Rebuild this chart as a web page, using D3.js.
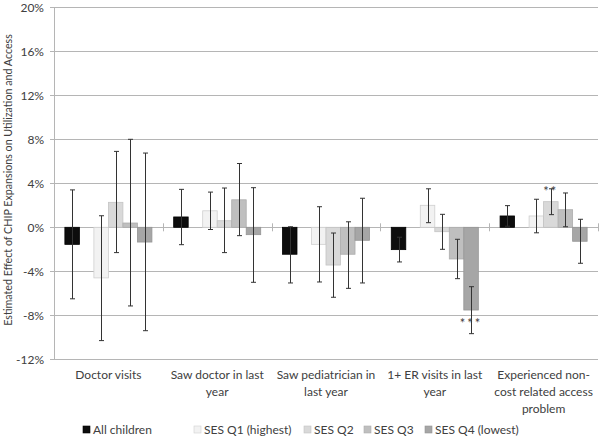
<!DOCTYPE html>
<html>
<head>
<meta charset="utf-8">
<script src="https://cdn.jsdelivr.net/npm/d3@7"></script>
<style>
  body { margin: 0; background: #fff; }
  svg text { font-family: Lato, "Open Sans", sans-serif; fill: #404040; }
</style>
</head>
<body>
<script>
// categories and tick labels
var categories = [
  ["Doctor visits"],
  ["Saw doctor in last", "year"],
  ["Saw pediatrician in", "last year"],
  ["1+ ER visits in last", "year"],
  ["Experienced non-", "cost related access", "problem"]
];
var yTicks = [-12, -8, -4, 0, 4, 8, 12, 16, 20];

var seriesNames = ["All children", "SES Q1 (highest)", "SES Q2", "SES Q3", "SES Q4 (lowest)"];
var seriesKeys = ["all", "q1", "q2", "q3", "q4"];
var seriesColors = ["#0d0d0d", "#f2f2f2", "#d9d9d9", "#bfbfbf", "#a6a6a6"];
var seriesStroke = ["#000", "#cfcfcf", "#c4c4c4", "#adadad", "#959595"];

// point estimates (%), one per category
var allChildren = [-1.55, 0.94, -2.45, -2.03, 1.03];
var sesQ1 = [-4.6, 1.5, -1.55, 2.0, 1.03];
var sesQ2 = [2.27, 0.6, -3.43, -0.4, 2.33];
var sesQ3 = [0.39, 2.5, -2.45, -2.88, 1.6];
var sesQ4 = [-1.34, -0.67, -1.18, -7.52, -1.27];

// confidence intervals (%)
var allLow = [-6.5, -1.58, -5.06, -3.15, 0.1];
var allHigh = [3.4, 3.45, 0.05, -0.9, 1.97];
var q1Low = [-10.3, -0.2, -4.97, 0.42, -0.5];
var q1High = [1.05, 3.2, 1.87, 3.5, 2.55];
var q2Low = [-2.3, -2.3, -6.36, -2.0, 1.15];
var q2High = [6.9, 3.57, -0.52, 1.18, 3.5];
var q3Low = [-7.15, -0.76, -5.55, -4.67, 0.05];
var q3High = [8.0, 5.8, 0.5, -1.09, 3.12];
var q4Low = [-9.4, -5.0, -5.06, -9.67, -3.27];
var q4High = [6.75, 3.6, 2.64, -5.4, 0.73];

// significance stars: [category index, series key, label]
var stars = [[3, "q4", "***"], [4, "q2", "**"]];

var values = { all: allChildren, q1: sesQ1, q2: sesQ2, q3: sesQ3, q4: sesQ4 };
var lows = { all: allLow, q1: q1Low, q2: q2Low, q3: q3Low, q4: q4Low };
var highs = { all: allHigh, q1: q1High, q2: q2High, q3: q3High, q4: q4High };

var width = 600, height = 437;
var margin = {top: 7.3, right: 2, bottom: 77.7, left: 54};

var svg = d3.select("body").append("svg")
    .attr("width", width)
    .attr("height", height);

var x = d3.scaleBand()
    .domain(d3.range(categories.length))
    .range([margin.left, width - margin.right])
    .padding(0);

// one empty slot between "All children" and the SES quartiles
var xs = d3.scaleBand()
    .domain(["all", "gap", "q1", "q2", "q3", "q4"])
    .range([0, x.bandwidth()])
    .paddingInner(0)
    .paddingOuter(0.75);

var y = d3.scaleLinear()
    .domain([-12, 20])
    .range([height - margin.bottom, margin.top]);

// gridlines
svg.append("g")
    .selectAll("line")
    .data(yTicks)
  .enter().append("line")
    .attr("x1", margin.left - 4)
    .attr("x2", width - margin.right)
    .attr("y1", function(d) { return Math.round(y(d)) + 0.5; })
    .attr("y2", function(d) { return Math.round(y(d)) + 0.5; })
    .attr("stroke", "#b5b5b5")
    .attr("stroke-width", 1);

// y axis
var yAxis = d3.axisLeft(y)
    .tickValues(yTicks)
    .tickSize(0)
    .tickPadding(10)
    .tickFormat(function(d) { return d + "%"; });

svg.append("g")
    .attr("transform", "translate(" + margin.left + ",0)")
    .call(yAxis)
    .call(function(g) { g.select(".domain").attr("stroke", "#b5b5b5"); })
    .call(function(g) {
      g.selectAll(".tick text")
        .style("font-size", "12px")
        .attr("fill", "#595959");
    });

// category separators on the zero line
svg.append("g")
    .selectAll("line")
    .data(d3.range(1, categories.length + 1))
  .enter().append("line")
    .attr("x1", function(d) { return Math.round(x.step() * d + margin.left) + 0.5; })
    .attr("x2", function(d) { return Math.round(x.step() * d + margin.left) + 0.5; })
    .attr("y1", y(0) - 4)
    .attr("y2", y(0) + 4)
    .attr("stroke", "#b5b5b5");

// bars
seriesKeys.forEach(function(key, si) {
  svg.append("g")
      .selectAll("rect")
      .data(values[key])
    .enter().append("rect")
      .attr("x", function(d, i) { return x(i) + xs(key); })
      .attr("width", xs.bandwidth())
      .attr("y", function(d) { return y(Math.max(0, d)); })
      .attr("height", function(d) { return Math.abs(y(d) - y(0)); })
      .attr("fill", seriesColors[si])
      .attr("stroke", seriesStroke[si])
      .attr("stroke-width", 0.8);
});

// error bars
seriesKeys.forEach(function(key) {
  var g = svg.append("g").attr("stroke", "#333").attr("stroke-width", 1);
  var cx = function(i) { return Math.round(x(i) + xs(key) + xs.bandwidth() / 2) + 0.5; };
  values[key].forEach(function(v, i) {
    var lo = y(lows[key][i]), hi = y(highs[key][i]);
    g.append("line")
        .attr("x1", cx(i)).attr("x2", cx(i))
        .attr("y1", lo).attr("y2", hi);
    g.append("line")
        .attr("x1", cx(i) - 2.5).attr("x2", cx(i) + 2.5)
        .attr("y1", lo).attr("y2", lo);
    g.append("line")
        .attr("x1", cx(i) - 2.5).attr("x2", cx(i) + 2.5)
        .attr("y1", hi).attr("y2", hi);
  });
});

// significance stars
svg.append("g")
    .selectAll("text")
    .data(stars)
  .enter().append("text")
    .attr("x", function(d) { return x(d[0]) + xs(d[1]) + xs.bandwidth() / 2; })
    .attr("y", function(d) {
      var v = values[d[1]][d[0]];
      return v < 0 ? y(v) + 18 : y(highs[d[1]][d[0]]) + 7;
    })
    .attr("text-anchor", "middle")
    .style("font-size", "13px")
    .style("letter-spacing", "2px")
    .text(function(d) { return d[2]; });

// category labels
var catG = svg.append("g")
    .selectAll("text")
    .data(categories)
  .enter().append("text")
    .attr("x", function(d, i) { return x(i) + x.bandwidth() / 2; })
    .attr("y", 379)
    .attr("text-anchor", "middle")
    .style("font-size", "12px");

catG.selectAll("tspan")
    .data(function(d) { return d; })
  .enter().append("tspan")
    .attr("x", function() { return d3.select(this.parentNode).attr("x"); })
    .attr("dy", function(d, i) { return i === 0 ? 0 : 17; })
    .text(function(d) { return d; });

// y axis title
svg.append("text")
    .attr("transform", "translate(12,180) rotate(-90)")
    .attr("text-anchor", "middle")
    .style("font-size", "10.7px")
    .text("Estimated Effect of CHIP Expansions on Utilization and Access");

// legend
var legendX = [83, 194, 304, 364, 425];
var legend = svg.append("g")
    .selectAll("g")
    .data(seriesNames)
  .enter().append("g")
    .attr("transform", function(d, i) { return "translate(" + legendX[i] + ",434)"; });

legend.append("rect")
    .attr("x", 0)
    .attr("y", -8)
    .attr("width", 7)
    .attr("height", 7)
    .attr("fill", function(d, i) { return seriesColors[i]; })
    .attr("stroke", function(d, i) { return seriesStroke[i]; })
    .attr("stroke-width", 0.6);

legend.append("text")
    .attr("x", 10)
    .attr("y", 0)
    .style("font-size", "12px")
    .text(function(d) { return d; });
</script>
</body>
</html>
